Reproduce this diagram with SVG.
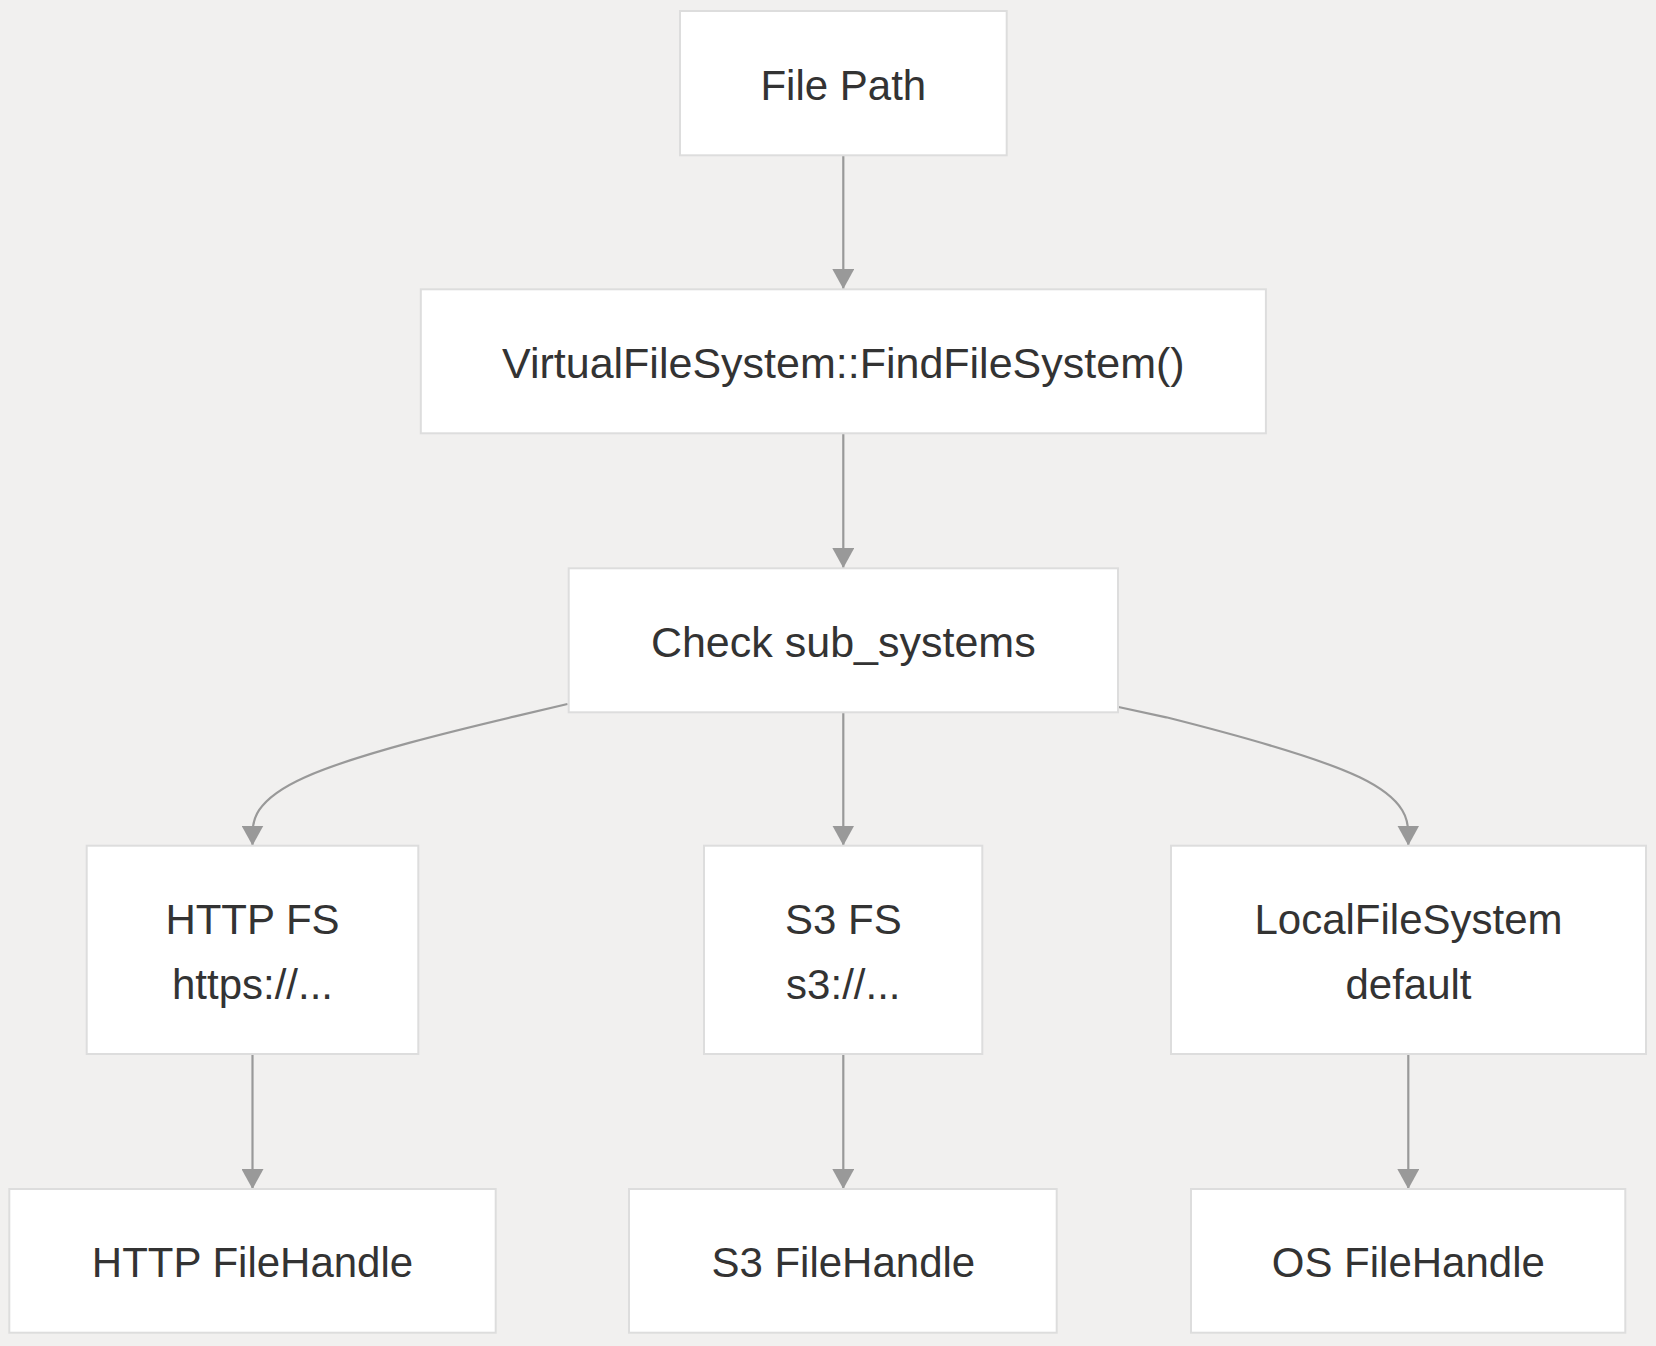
<svg xmlns="http://www.w3.org/2000/svg" width="1656" height="1346" viewBox="0 0 1656 1346">
<defs>
<style>
.node rect{fill:#ffffff;stroke:#dddddd;stroke-width:2}
.node text{font-family:"Liberation Sans",Arial,sans-serif;font-size:42px;fill:#333333;text-anchor:middle}
.node text.wide{font-size:43px}
.edges path{fill:none;stroke:#999999;stroke-width:2.2}
</style>
<marker id="arrow" viewBox="0 0 20 22" refX="20" refY="11" markerWidth="20" markerHeight="22" markerUnits="userSpaceOnUse" orient="auto">
<path d="M0,0 L20,11 L0,22 z" fill="#999999"/>
</marker>
</defs>
<rect x="0" y="0" width="1656" height="1346" fill="#f1f0ef"/>
<g class="edges" id="edges">
<path d="M843.3,155.3 L843.3,289" marker-end="url(#arrow)"/>
<path d="M843.3,433.3 L843.3,568" marker-end="url(#arrow)"/>
<path d="M567.5,704 L515,716.4 C462.5,728.8 357.5,753.7 305,777.2 C252.5,800.7 252.5,822.8 252.5,833.9 L252.5,845.5" marker-end="url(#arrow)"/>
<path d="M843.3,712.3 L843.3,845.5" marker-end="url(#arrow)"/>
<path d="M1118.5,707 L1166.3,717.3 C1214.7,729.5 1311.3,754 1359.7,777.3 C1408.3,800.7 1408.3,822.8 1408.3,833.9 L1408.3,845.5" marker-end="url(#arrow)"/>
<path d="M252.5,1054 L252.5,1189" marker-end="url(#arrow)"/>
<path d="M843.3,1054 L843.3,1189" marker-end="url(#arrow)"/>
<path d="M1408.3,1054 L1408.3,1189" marker-end="url(#arrow)"/>
</g>
<g class="node" id="file-path">
<rect x="680" y="11" width="326.7" height="144.3"/>
<text x="843.3" y="99.5">File Path</text>
</g>
<g class="node" id="find-file-system">
<rect x="420.8" y="289.3" width="845.1" height="144"/>
<text class="wide" x="843.3" y="377.5">VirtualFileSystem::FindFileSystem()</text>
</g>
<g class="node" id="check-sub-systems">
<rect x="568.7" y="568.3" width="549.3" height="144"/>
<text class="wide" x="843.3" y="656.5">Check sub_systems</text>
</g>
<g class="node" id="http-fs">
<rect x="86.7" y="845.7" width="331.6" height="208.3"/>
<text x="252.5" y="934">HTTP FS</text>
<text x="252.5" y="999">https://...</text>
</g>
<g class="node" id="s3-fs">
<rect x="704" y="845.7" width="278.3" height="208.3"/>
<text x="843.3" y="934">S3 FS</text>
<text x="843.3" y="999">s3://...</text>
</g>
<g class="node" id="local-fs">
<rect x="1171" y="845.7" width="475" height="208.3"/>
<text x="1408.5" y="934">LocalFileSystem</text>
<text x="1408.5" y="999">default</text>
</g>
<g class="node" id="http-filehandle">
<rect x="9.3" y="1189" width="486.4" height="143.7"/>
<text x="252.5" y="1277">HTTP FileHandle</text>
</g>
<g class="node" id="s3-filehandle">
<rect x="629" y="1189" width="427.7" height="143.7"/>
<text x="843.3" y="1277">S3 FileHandle</text>
</g>
<g class="node" id="os-filehandle">
<rect x="1191" y="1189" width="434.3" height="143.7"/>
<text x="1408.3" y="1277">OS FileHandle</text>
</g>
</svg>
